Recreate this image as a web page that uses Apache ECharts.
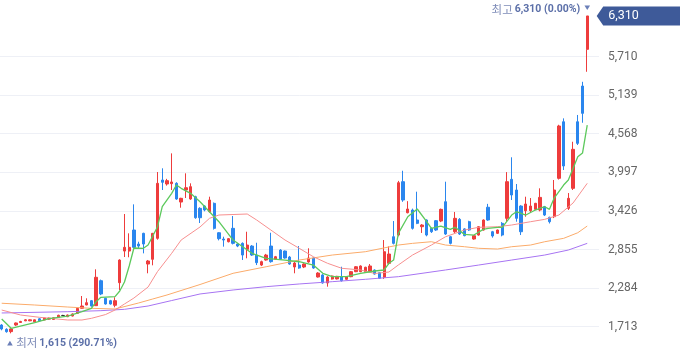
<!DOCTYPE html>
<html><head><meta charset="utf-8">
<style>html,body{margin:0;padding:0;background:#fff}#c{width:680px;height:358px}</style>
<script src="https://cdn.jsdelivr.net/npm/echarts/dist/echarts.min.js"></script>
</head><body><div id="c"></div>
<script>
// ---- data ----
const categories = Array.from({length: 125}, (_, i) => 'D' + (i + 1)).concat([' ', '  ']);
const opens = [1738,1674,1640,1738,1775,1800,1800,1785,1830,1812,1825,1820,1852,1879,1861,1871,1911,1985,2034,2098,
2024,2393,2133,2098,2030,2364,2832,2832,3143,2936,3094,2640,2710,3020,3883,3824,3829,3834,3557,3735,
3602,3636,3464,3498,3415,3538,3103,3010,2970,3168,2936,2946,2857,2906,2773,2625,2699,2906,2710,2847,
2832,2744,2596,2625,2596,2670,2729,2448,2478,2360,2418,2420,2453,2414,2453,2527,2527,2527,2527,2551,
2512,2443,2650,3044,3069,3858,3399,3439,3291,3192,3291,3168,3281,3276,3562,3044,3118,3301,3160,3266,
3010,3069,3143,3480,3118,3094,3242,3316,3893,3735,3498,3429,3429,3449,3439,3488,3331,3340,3908,4745,
3464,3760,4745,5273,5816];
const closes = [1679,1639,1680,1768,1790,1815,1815,1815,1800,1842,1840,1845,1882,1879,1886,1901,1985,2019,2068,2019,
2444,2197,2049,2049,2098,2699,2887,2887,2887,2906,2936,2685,3094,3834,3849,3873,3854,3602,3612,3769,
3784,3325,3325,3439,3587,3168,3015,2995,3015,2946,2906,2773,2921,2773,2660,2675,2773,2675,2748,2710,
2729,2640,2655,2581,2640,2729,2581,2507,2360,2448,2463,2458,2394,2453,2527,2600,2611,2592,2611,2492,
2429,2822,2788,2946,3843,3587,3454,3168,3242,3217,3069,3118,3143,3449,3084,2946,3316,3084,3060,3143,
3059,3192,3291,3291,3055,3143,3069,3858,3661,3316,3118,3528,3498,3538,3626,3365,3266,3735,4682,4090,
3612,4337,4425,4869,6310];
const lows = [1660,1625,1615,1725,1768,1795,1795,1780,1795,1805,1818,1815,1845,1872,1855,1865,1905,1975,2030,2010,
2019,2180,2040,2040,2000,2256,2744,2740,2870,2873,2798,2503,2621,3000,3735,3800,3735,3590,3473,3617,
3590,3310,3247,3420,3400,3150,2990,2897,2960,2930,2890,2700,2725,2760,2625,2610,2690,2660,2700,2700,
2720,2630,2503,2570,2580,2660,2570,2440,2350,2305,2410,2412,2380,2405,2445,2520,2520,2520,2520,2485,
2420,2420,2630,2930,3050,3560,3390,3150,3230,3100,3050,3100,3130,3260,3070,2930,3100,3070,3050,3130,
3000,3060,3135,3280,3030,3085,3050,3266,3587,3266,3069,3340,3410,3440,3420,3350,3240,3320,3890,4031,
3440,3735,4401,4730,5484];
const highs = [1750,1690,1690,1775,1800,1825,1822,1820,1840,1848,1848,1850,1890,1888,1892,1910,1995,2167,2133,2108,
2562,2410,2140,2110,2148,2710,3380,3094,3523,2970,3103,2700,3100,4001,4056,3900,4277,3850,3620,3982,
3834,3650,3480,3510,3636,3550,3110,3044,3025,3350,2950,2960,3118,2920,2955,2690,2790,3103,2760,2860,
2840,2760,2670,2906,2650,2873,2740,2520,2490,2460,2470,2465,2600,2460,2535,2610,2620,2600,2640,2560,
2520,2995,2900,3276,3870,4020,3570,3460,3710,3230,3300,3180,3290,3460,3858,3055,3410,3320,3170,3280,
3070,3200,3300,3530,3130,3150,3260,4000,4219,3824,3510,3636,3616,3545,3760,3500,3340,3883,4700,4795,
3690,4449,4845,5336,6310];
// moving averages: [candle index, value]
const ma5 = [[0,1827],[2,1689],[7,1772],[10,1831],[14,1871],[17,1935],[19,1985],[20,2083],[21,2148],[24,2157],[25,2241],[26,2374],[27,2611],[28,2877],[30,2873],[31,2921],[33,3192],[34,3488],[36,3686],[37,3809],[38,3760],[40,3686],[42,3562],[44,3414],[46,3266],[49,2995],[53,2799],[56,2725],[60,2699],[63,2674],[66,2625],[68,2503],[70,2453],[73,2453],[76,2503],[79,2537],[81,2552],[82,2651],[83,2699],[84,3094],[86,3340],[88,3454],[90,3266],[91,3168],[93,3202],[95,3153],[96,3183],[98,3079],[100,3069],[102,3153],[103,3168],[105,3183],[106,3183],[108,3365],[109,3414],[111,3365],[113,3439],[115,3488],[116,3449],[117,3616],[119,3809],[120,3883],[122,4227],[123,4282],[124,4696]];
const ma20 = [[0,1960],[4,1886],[8,1852],[14,1812],[17,1812],[19,1837],[22,1893],[24,1960],[26,2049],[28,2137],[31,2300],[33,2529],[36,2799],[38,2995],[42,3188],[44,3316],[46,3365],[52,3380],[54,3291],[57,3143],[60,2995],[63,2873],[66,2748],[69,2651],[72,2577],[76,2552],[79,2500],[82,2522],[84,2626],[87,2773],[91,2921],[94,3044],[98,3143],[101,3183],[105,3192],[108,3217],[112,3266],[115,3301],[118,3365],[121,3543],[124,3834]];
const ma60 = [[0,2060],[7,2034],[14,2004],[19,1985],[24,1975],[29,2064],[32,2123],[35,2182],[42,2337],[49,2503],[56,2600],[63,2699],[70,2773],[77,2822],[84,2921],[87,2946],[91,2970],[94,2921],[98,2896],[101,2873],[105,2862],[108,2896],[112,2921],[115,2970],[119,3020],[122,3103],[124,3202]];
const ma120 = [[0,1916],[14,1935],[21,1950],[26,1970],[31,2019],[36,2100],[42,2197],[49,2256],[56,2305],[63,2345],[70,2379],[77,2414],[84,2453],[94,2552],[101,2625],[108,2699],[115,2773],[120,2847],[124,2946]];
const yTicks = [1713, 2284, 2855, 3426, 3997, 4568, 5139, 5710];
const highInfo = {label: '최고', value: 6310, pct: '0.00%'};
const lowInfo = {label: '최저', value: 1615, pct: '290.71%'};

// ---- chart ----
const FONT = "Roboto, 'Noto Sans', 'Noto Sans CJK KR', sans-serif";
const KFONT = "'Noto Sans CJK KR', sans-serif";
const UP = '#ee3c3c', DOWN = '#2a86ee';
const chart = echarts.init(document.getElementById('c'), null, {renderer: 'canvas'});
const candles = opens.map((o, i) => [o, closes[i], lows[i], highs[i]]);
const fmt = v => v.toLocaleString('en-US');
const lineSeries = (name, data, color, w) => ({
  name, type: 'line', data, symbol: 'none', smooth: false, z: 5,
  lineStyle: {color, width: w}, silent: true
});
chart.setOption({
  animation: false,
  grid: {left: -0.66, top: -20.7, width: 599.7, height: 386, containLabel: false, outerBoundsMode: 'none'},
  xAxis: {type: 'category', data: categories, show: false, boundaryGap: true},
  yAxis: {
    type: 'value', position: 'right', min: 1142, max: 6852, interval: 571, scale: true,
    splitLine: {show: false}, axisLine: {show: false}, axisTick: {show: false},
    axisLabel: {margin: 9, color: '#666', fontSize: 12, fontFamily: FONT,
      showMinLabel: true, showMaxLabel: true,
      formatter: v => yTicks.includes(v) ? fmt(v) : ''}
  },
  series: [
    {
      type: 'candlestick', data: candles, barWidth: 2.8, z: 3,
      itemStyle: {color: UP, color0: DOWN, borderColor: UP, borderColor0: DOWN, borderColorDoji: '#333', borderWidth: 1},
      markLine: {
        silent: true, symbol: ['none', 'none'], label: {show: false}, z: 0,
        lineStyle: {color: '#eef0f6', type: 'solid', width: 1},
        emphasis: {disabled: true},
        data: yTicks.map(v => ({yAxis: v}))
      }
    },
    lineSeries('MA120', ma120, '#a774f2', 1),
    lineSeries('MA60', ma60, '#fbab6a', 1),
    lineSeries('MA20', ma20, '#f78f8f', 1),
    lineSeries('MA5', ma5, '#5cc95c', 1.3)
  ]
});

// annotations positioned from the library's scales
const last = closes.length - 1;
let hiIdx = 0, loIdx = 0;
highs.forEach((h, i) => { if (h > highs[hiIdx]) hiIdx = i; });
lows.forEach((l, i) => { if (l < lows[loIdx]) loIdx = i; });
const [hx, hy] = chart.convertToPixel({seriesIndex: 0}, [hiIdx, highs[hiIdx]]);
const [lx, ly] = chart.convertToPixel({seriesIndex: 0}, [loIdx, lows[loIdx]]);
const [, cy] = chart.convertToPixel({seriesIndex: 0}, [last, closes[last]]);
const tagX = 596.7;
const rich = {
  a: {fill: '#7e8cb8', fontSize: 11.5, fontFamily: KFONT, padding: [0, 2, 0, 0]},
  b: {fill: '#5b6fa8', fontSize: 10.5, fontWeight: 'bold', fontFamily: FONT}
};
chart.setOption({
  graphic: [
    {type: 'polygon', z: 100, shape: {points: [[tagX, cy], [tagX + 6.5, cy - 9.5], [680, cy - 9.5], [680, cy + 9.5], [tagX + 6.5, cy + 9.5]]},
      style: {fill: '#3e5a99'}},
    {type: 'text', z: 101, x: 608.3, y: cy, style: {text: fmt(closes[last]), fill: '#fff', font: '12.5px ' + FONT, textVerticalAlign: 'middle', textAlign: 'left'}},
    {type: 'polygon', z: 100, shape: {points: [[hx - 2.8, hy - 10.5], [hx + 2.8, hy - 10.5], [hx, hy - 6]]}, style: {fill: '#6b7fb8'}},
    {type: 'text', z: 100, x: hx - 7, y: hy - 6.3, style: {
      text: '{a|' + highInfo.label + '}{b|' + fmt(highInfo.value) + ' (' + highInfo.pct + ')}',
      textAlign: 'right', textVerticalAlign: 'middle', rich
    }},
    {type: 'polygon', z: 100, shape: {points: [[lx - 4, ly + 12.2], [lx + 1.6, ly + 12.2], [lx - 1.2, ly + 7.4]]}, style: {fill: '#6b7fb8'}},
    {type: 'text', z: 100, x: lx + 5, y: ly + 9.6, style: {
      text: '{a|' + lowInfo.label + '}{b|' + fmt(lowInfo.value) + ' (' + lowInfo.pct + ')}',
      textAlign: 'left', textVerticalAlign: 'middle', rich
    }}
  ]
});
</script>
</body></html>
